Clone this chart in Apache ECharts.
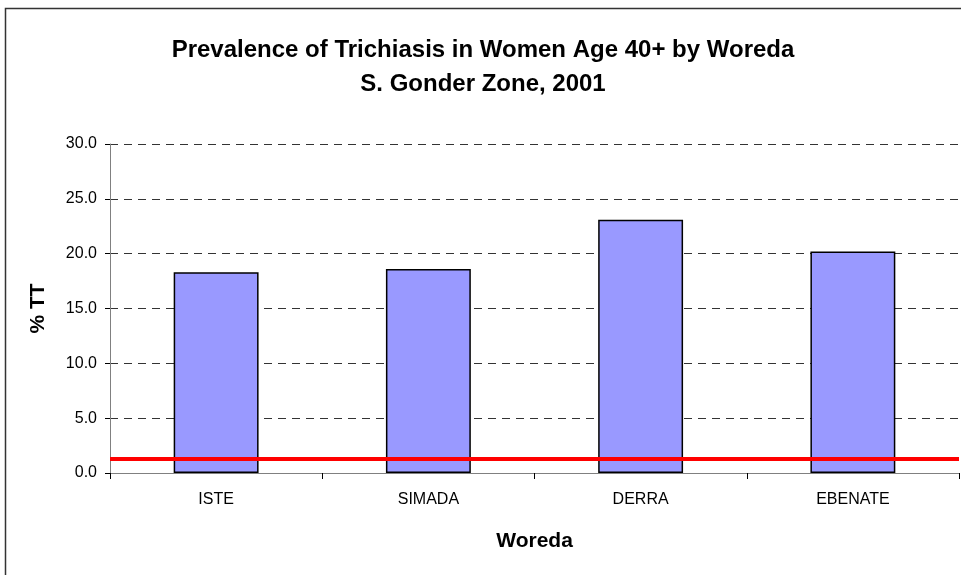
<!DOCTYPE html>
<html>
<head>
<meta charset="utf-8">
<script src="https://cdn.jsdelivr.net/npm/echarts@6/dist/echarts.min.js"></script>
<style>html,body{margin:0;padding:0;background:#fff}#c{width:961px;height:575px}</style>
</head>
<body>
<div id="c"></div>
<script>
var categories = ['ISTE', 'SIMADA', 'DERRA', 'EBENATE'];
var prevalence = [18.3, 18.6, 23.1, 20.2];
var threshold = 1.3;
var yTicks = [0, 5, 10, 15, 20, 25, 30];

var chart = echarts.init(document.getElementById('c'));
chart.setOption({
  animation: false,
  backgroundColor: '#fff',
  title: {
    text: 'Prevalence of Trichiasis in Women Age 40+ by Woreda\nS. Gonder Zone, 2001',
    left: 478, top: 28, textAlign: 'center',
    textStyle: { fontFamily: 'Liberation Sans, Arial', fontWeight: 'bold', fontSize: 24, lineHeight: 34, color: '#000' }
  },
  graphic: [{
    type: 'rect', left: 3, top: 6, z: 100,
    shape: { width: 980, height: 590 },
    style: { fill: 'none', stroke: '#333', lineWidth: 1.5 }
  }],
  grid: { left: 110, right: 2, top: 144, bottom: 102 },
  xAxis: {
    type: 'category', data: categories,
    name: 'Woreda', nameLocation: 'middle', nameGap: 58,
    nameTextStyle: { fontFamily: 'Liberation Sans, Arial', fontWeight: 'bold', fontSize: 21, color: '#000' },
    axisLine: { lineStyle: { color: '#808080', width: 1 } },
    axisTick: { show: true, length: 6, lineStyle: { color: '#000' } },
    axisLabel: { margin: 19, fontFamily: 'Liberation Sans, Arial', fontSize: 16, color: '#000' }
  },
  yAxis: {
    type: 'value', min: yTicks[0], max: yTicks[yTicks.length - 1], interval: 5,
    name: '% TT', nameLocation: 'middle', nameGap: 61, nameRotate: 90,
    nameTextStyle: { fontFamily: 'Liberation Sans, Arial', fontWeight: 'bold', fontSize: 21, color: '#000' },
    axisLine: { show: true, lineStyle: { color: '#808080', width: 1 } },
    axisTick: { show: true, length: 5, lineStyle: { color: '#000' } },
    axisLabel: { margin: 13, fontFamily: 'Liberation Sans, Arial', fontSize: 16, color: '#000',
      formatter: function (v) { return v.toFixed(1); } },
    splitLine: { show: true, lineStyle: { color: '#333', type: [8, 6], width: 1 } }
  },
  series: [{
    type: 'bar', data: prevalence, barWidth: '40%',
    itemStyle: { color: '#9999FF', borderColor: '#000', borderWidth: 1.5 },
    markLine: {
      silent: true, symbol: 'none', label: { show: false },
      lineStyle: { color: '#FF0000', width: 4, type: 'solid' },
      data: [{ yAxis: threshold }]
    }
  }]
});
</script>
</body>
</html>
